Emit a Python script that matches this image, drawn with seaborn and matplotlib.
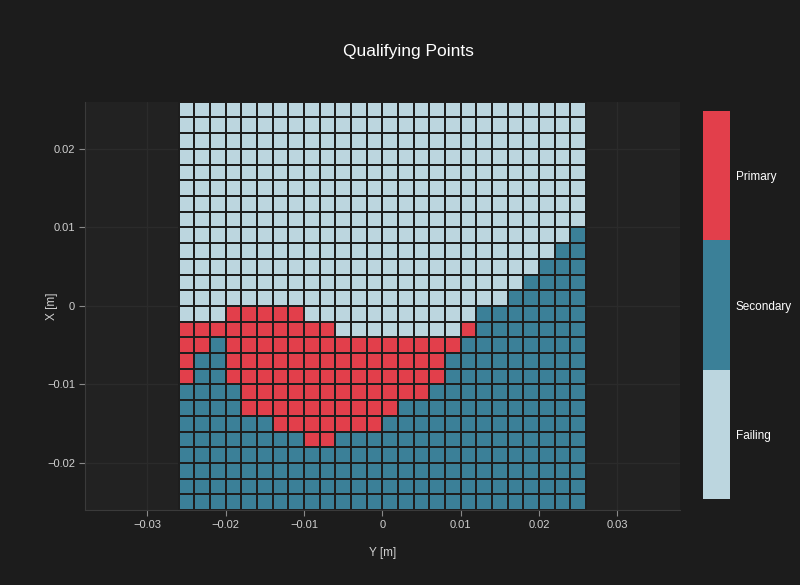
import numpy as np
import pandas as pd
import seaborn as sns
import matplotlib
matplotlib.use("Agg")
import matplotlib.pyplot as plt
from matplotlib.colors import ListedColormap

# cell centres [m]
x_cells = [-0.025, -0.023, -0.021, -0.019, -0.017, -0.015, -0.013, -0.011, -0.009,
           -0.007, -0.005, -0.003, -0.001, 0.001, 0.003, 0.005, 0.007, 0.009,
           0.011, 0.013, 0.015, 0.017, 0.019, 0.021, 0.023, 0.025]
y_cells = x_cells[::-1]  # top row first

# F = Failing, S = Secondary, P = Primary  (rows top -> bottom)
grid_rows = [
    "FFFFFFFFFFFFFFFFFFFFFFFFFF",
    "FFFFFFFFFFFFFFFFFFFFFFFFFF",
    "FFFFFFFFFFFFFFFFFFFFFFFFFF",
    "FFFFFFFFFFFFFFFFFFFFFFFFFF",
    "FFFFFFFFFFFFFFFFFFFFFFFFFF",
    "FFFFFFFFFFFFFFFFFFFFFFFFFF",
    "FFFFFFFFFFFFFFFFFFFFFFFFFF",
    "FFFFFFFFFFFFFFFFFFFFFFFFFF",
    "FFFFFFFFFFFFFFFFFFFFFFFFFS",
    "FFFFFFFFFFFFFFFFFFFFFFFFSS",
    "FFFFFFFFFFFFFFFFFFFFFFFSSS",
    "FFFFFFFFFFFFFFFFFFFFFFSSSS",
    "FFFFFFFFFFFFFFFFFFFFFSSSSS",
    "FFFPPPPPFFFFFFFFFFFSSSSSSS",
    "PPPPPPPPPPFFFFFFFFPSSSSSSS",
    "PPSPPPPPPPPPPPPPPPSSSSSSSS",
    "PSSPPPPPPPPPPPPPPSSSSSSSSS",
    "PSSPPPPPPPPPPPPPPSSSSSSSSS",
    "SSSSPPPPPPPPPPPPSSSSSSSSSS",
    "SSSSPPPPPPPPPPSSSSSSSSSSSS",
    "SSSSSSPPPPPPPSSSSSSSSSSSSS",
    "SSSSSSSSPPSSSSSSSSSSSSSSSS",
    "SSSSSSSSSSSSSSSSSSSSSSSSSS",
    "SSSSSSSSSSSSSSSSSSSSSSSSSS",
    "SSSSSSSSSSSSSSSSSSSSSSSSSS",
    "SSSSSSSSSSSSSSSSSSSSSSSSSS",
]
classes = ["Failing", "Secondary", "Primary"]
class_colors = ["#bcd6df", "#3b8098", "#e23f4b"]

x_ticks = [-0.03, -0.02, -0.01, 0, 0.01, 0.02, 0.03]
y_ticks = [-0.02, -0.01, 0, 0.01, 0.02]
x_range = [-0.038, 0.038]
y_range = [-0.026, 0.026]

code = {"F": 0, "S": 1, "P": 2}
for r in grid_rows:
    assert len(r) == len(x_cells), r
values = np.array([[code[c] for c in r] for r in grid_rows])
df = pd.DataFrame(values, index=y_cells, columns=x_cells)

sns.set_style("dark")
plt.rcParams["font.family"] = ["Liberation Sans", "DejaVu Sans"]

bg = "#1c1c1c"
plot_bg = "#222222"
fig = plt.figure(figsize=(8, 5.85), dpi=100, facecolor=bg)
ax = fig.add_axes([0.106, 0.128, 0.744, 0.698])
cax = fig.add_axes([0.879, 0.147, 0.034, 0.663])

sns.heatmap(df, ax=ax, cbar_ax=cax, cmap=ListedColormap(class_colors),
            vmin=-0.5, vmax=2.5, linewidths=1.3, linecolor="#1e1e1e",
            xticklabels=False, yticklabels=False)

# heatmap works in cell index units; map metres onto them
step = x_cells[1] - x_cells[0]
x_edge = x_cells[0] - step / 2
y_edge = y_cells[0] + step / 2


def ix(v):
    return (v - x_edge) / step


def iy(v):
    return (y_edge - v) / step


ax.set_facecolor(plot_bg)
ax.set_xlim(ix(x_range[0]), ix(x_range[1]))
ax.set_ylim(iy(y_range[0]), iy(y_range[1]))
ax.set_xticks([ix(v) for v in x_ticks])
ax.set_xticklabels([("%g" % v).replace("-", "\u2212") for v in x_ticks])
ax.set_yticks([iy(v) for v in y_ticks])
ax.set_yticklabels([("%g" % v).replace("-", "\u2212") for v in y_ticks])
ax.grid(True, color="#2b2b2b", lw=0.9)
ax.set_axisbelow(True)
ax.tick_params(direction="out", length=4, width=0.8, color="#8a8a8a",
               labelcolor="#d0d0d0", labelsize=8, bottom=True, left=True, pad=3)
for side in ["left", "bottom"]:
    ax.spines[side].set_visible(True)
    ax.spines[side].set_color("#3a3a3a")
    ax.spines[side].set_linewidth(0.8)
for side in ["top", "right"]:
    ax.spines[side].set_visible(False)
ax.set_xlabel("Y [m]", color="#cfcfcf", fontsize=8.5, labelpad=12)
ax.set_ylabel("X [m]", color="#cfcfcf", fontsize=8.5)
ax.yaxis.set_label_coords(-0.045, 0.5)

cbar = ax.collections[0].colorbar
cbar.set_ticks([0, 1, 2])
cbar.set_ticklabels(classes)
cbar.outline.set_visible(False)
cax.tick_params(length=0, labelcolor="white", labelsize=8.5, pad=4)

fig.text(0.511, 0.912, "Qualifying Points", color="white", fontsize=12.5,
         ha="center", va="center")

fig.savefig("out.png", dpi=100, facecolor=bg)
